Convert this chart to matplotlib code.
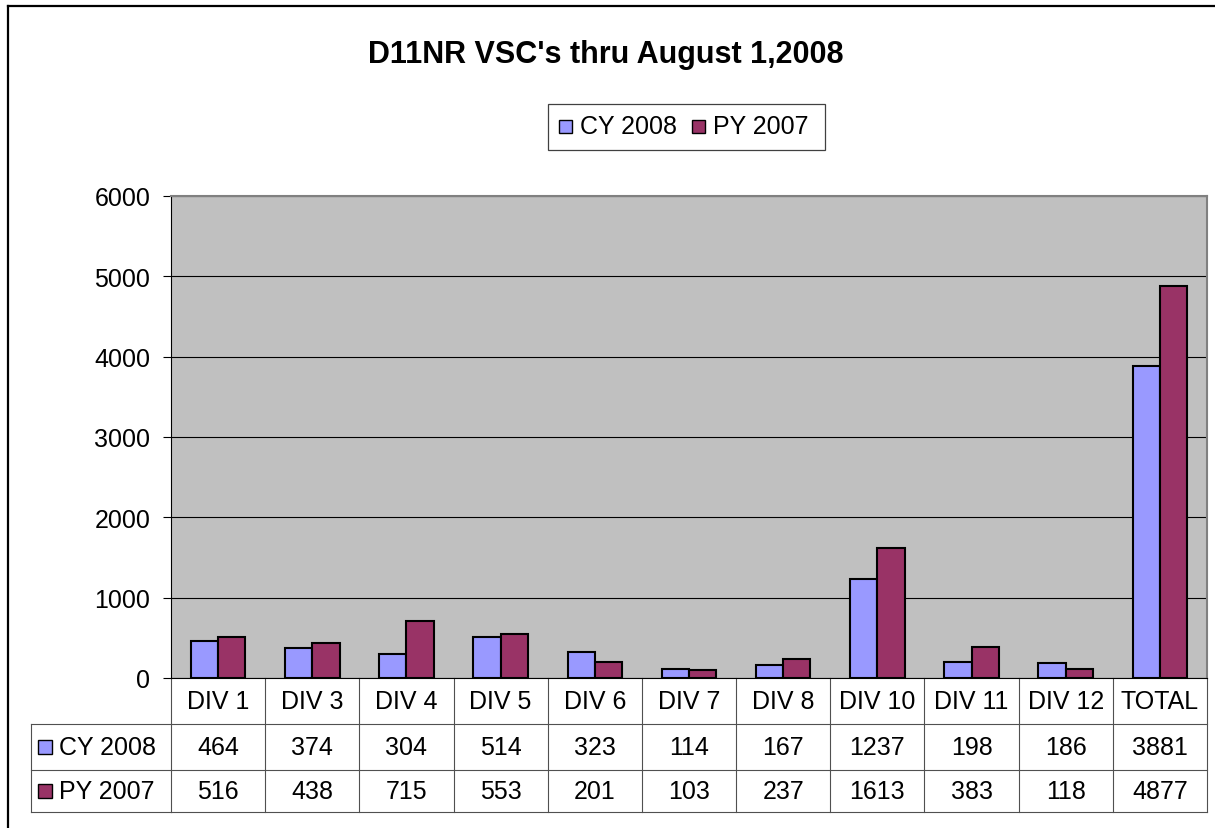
import matplotlib
matplotlib.use("Agg")
import matplotlib.pyplot as plt
import matplotlib.transforms as mtransforms
from matplotlib.patches import Rectangle
from matplotlib.lines import Line2D
import numpy as np

plt.rcParams['font.family'] = ['Liberation Sans', 'DejaVu Sans']

title = "D11NR VSC's thru August 1,2008"
categories = ["DIV 1", "DIV 3", "DIV 4", "DIV 5", "DIV 6", "DIV 7", "DIV 8",
              "DIV 10", "DIV 11", "DIV 12", "TOTAL"]
series_names = ["CY 2008", "PY 2007"]
cy2008 = [464, 374, 304, 514, 323, 114, 167, 1237, 198, 186, 3881]
py2007 = [516, 438, 715, 553, 201, 103, 237, 1613, 383, 118, 4877]
yticks = [0, 1000, 2000, 3000, 4000, 5000, 6000]

colors = ["#9999FF", "#993366"]
W, H = 1215, 829
FS = 18


def fx(x):
    return x / W


def fy(y):
    return 1 - y / H


fig = plt.figure(figsize=(W / 100, H / 100), dpi=100)
fig.patch.set_facecolor("white")

# outer chart border (top and left visible)
fig.add_artist(Line2D([fx(8), 1.0], [fy(7), fy(7)], color="black", lw=1.6,
                      transform=fig.transFigure))
fig.add_artist(Line2D([fx(8), fx(8)], [fy(7), 0.0], color="black", lw=1.6,
                      transform=fig.transFigure))

L, R, T, B = 171, 1207, 197, 679
ax = fig.add_axes([fx(L), fy(B), (R - L) / W, (B - T) / H])
ax.set_facecolor("#C0C0C0")

x = np.arange(len(categories))
bw = 0.29
ax.bar(x - bw / 2, cy2008, bw, color=colors[0], edgecolor="black", lw=1.5, zorder=3)
ax.bar(x + bw / 2, py2007, bw, color=colors[1], edgecolor="black", lw=1.5, zorder=3)

ax.set_xlim(-0.5, len(categories) - 0.5)
ax.set_ylim(0, 6000)
ax.set_yticks(yticks)
ax.set_yticklabels([str(v) for v in yticks], fontsize=FS)
ax.set_xticks([])
ax.tick_params(axis="y", direction="out", length=6, width=0.8, pad=9, colors="black")
ax.yaxis.grid(True, color="black", lw=0.8)
ax.set_axisbelow(True)
for s in ["top", "right"]:
    ax.spines[s].set_color("#808080")
    ax.spines[s].set_linewidth(1.5)
ax.spines["left"].set_color("black")
ax.spines["bottom"].set_color("black")
ax.spines["left"].set_linewidth(0.8)

# title
fig.text(fx(606), fy(55), title, ha="center", va="center", fontsize=22,
         fontweight="bold")

# legend (manual, Excel-style)
fig.add_artist(Rectangle((fx(548), fy(151)), (825 - 548) / W, (151 - 105) / H,
                         transform=fig.transFigure, facecolor="white",
                         edgecolor="#404040", lw=0.9))
leg_items = [(559, 580, series_names[0], colors[0]),
             (692, 713, series_names[1], colors[1])]
for sx, tx, name, c in leg_items:
    fig.add_artist(Rectangle((fx(sx), fy(134)), 13 / W, 13 / H,
                             transform=fig.transFigure, facecolor=c,
                             edgecolor="black", lw=1.0))
    fig.text(fx(tx), fy(127), name, ha="left", va="center", fontsize=FS)

# data table
trans = mtransforms.blended_transform_factory(ax.transData, fig.transFigure)
lc = "#505050"
lw = 0.8
rows_y = [679, 725, 771, 813]
n = len(categories)
# vertical lines
for i in range(n + 1):
    ax.add_line(Line2D([i - 0.5, i - 0.5], [fy(679), fy(813)], transform=trans,
                       color=lc, lw=lw, clip_on=False))
# horizontal lines
for yy in rows_y[1:]:
    ax.add_line(Line2D([-0.5, n - 0.5], [fy(yy), fy(yy)], transform=trans,
                       color=lc, lw=lw, clip_on=False))
    fig.add_artist(Line2D([fx(31), fx(L)], [fy(yy), fy(yy)], color=lc, lw=lw,
                          transform=fig.transFigure))
fig.add_artist(Line2D([fx(31), fx(31)], [fy(725), fy(813)], color=lc, lw=lw,
                      transform=fig.transFigure))

for i, cat in enumerate(categories):
    ax.text(i, fy(702), cat, transform=trans, ha="center", va="center", fontsize=FS)
    ax.text(i, fy(748), str(cy2008[i]), transform=trans, ha="center", va="center",
            fontsize=FS)
    ax.text(i, fy(792), str(py2007[i]), transform=trans, ha="center", va="center",
            fontsize=FS)

for yc, name, c in [(748, series_names[0], colors[0]), (792, series_names[1], colors[1])]:
    fig.add_artist(Rectangle((fx(38), fy(yc + 7)), 14 / W, 14 / H,
                             transform=fig.transFigure, facecolor=c,
                             edgecolor="black", lw=1.0))
    fig.text(fx(59), fy(yc), name, ha="left", va="center", fontsize=FS)

fig.savefig("out.png", dpi=100)
